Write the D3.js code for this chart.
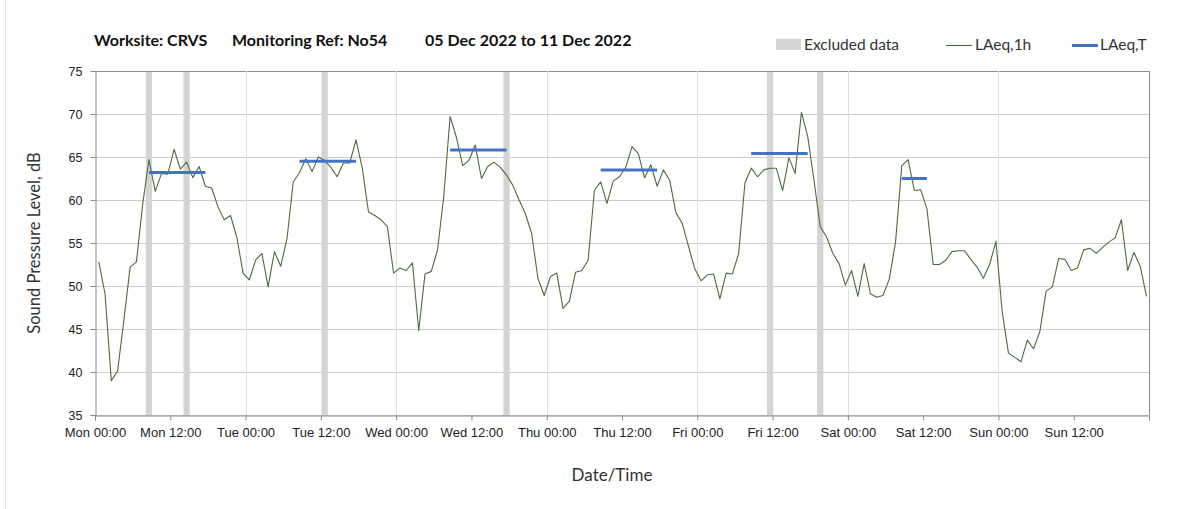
<!DOCTYPE html>
<html>
<head>
<meta charset="utf-8">
<script src="https://cdn.jsdelivr.net/npm/d3@7"></script>
<style>
  html, body { margin: 0; padding: 0; background: #fff; }
  svg { display: block; font-family: Lato, "Open Sans", sans-serif; }
</style>
</head>
<body>
<svg id="chart" width="1203" height="509"></svg>
<script>
// ---------------- DATA ----------------
const titleParts = ["Worksite: CRVS", "Monitoring Ref: No54", "05 Dec 2022 to 11 Dec 2022"];
const startDate = new Date(2022, 11, 5, 0, 0);   // Mon 05 Dec 2022 00:00
const endDate = new Date(2022, 11, 12, 0, 0);    // Mon 12 Dec 2022 00:00
const sampleMinute = 36;                          // hourly samples logged at hh:36
const yTicks = [35, 40, 45, 50, 55, 60, 65, 70, 75];

const laeqMon = [52.8, 49.1, 39.0, 40.1, 46.0, 52.2, 52.8, 59.5, 64.7, 61.0, 63.1, 63.0,
                 65.9, 63.6, 64.4, 62.6, 63.9, 61.6, 61.4, 59.2, 57.7, 58.2, 55.7, 51.5];
const laeqTue = [50.7, 53.0, 53.8, 49.9, 54.0, 52.3, 55.5, 62.1, 63.2, 64.8, 63.3, 65.0,
                 64.6, 63.8, 62.7, 64.3, 64.3, 67.0, 63.7, 58.6, 58.2, 57.7, 56.9, 51.5];
const laeqWed = [52.1, 51.8, 52.7, 44.8, 51.4, 51.7, 54.2, 60.5, 69.7, 67.3, 64.0, 64.6,
                 66.4, 62.5, 63.9, 64.4, 63.8, 62.9, 61.7, 60.0, 58.4, 56.1, 50.9, 48.9];
const laeqThu = [51.1, 51.5, 47.4, 48.2, 51.6, 51.8, 53.0, 61.1, 62.1, 59.6, 62.2, 62.7,
                 63.8, 66.2, 65.4, 62.6, 64.1, 61.6, 63.5, 62.3, 58.5, 57.3, 54.6, 52.0];
const laeqFri = [50.6, 51.3, 51.4, 48.5, 51.5, 51.4, 53.8, 62.0, 63.7, 62.7, 63.5, 63.7,
                 63.7, 61.1, 64.9, 63.1, 70.2, 67.4, 62.3, 56.9, 55.7, 53.8, 52.6, 50.1];
const laeqSat = [51.8, 48.8, 52.6, 49.1, 48.7, 48.9, 50.8, 55.1, 64.0, 64.7, 61.1, 61.2,
                 59.0, 52.5, 52.5, 53.0, 54.0, 54.1, 54.1, 53.1, 52.2, 50.9, 52.5, 55.2];
const laeqSun = [47.0, 42.2, 41.7, 41.2, 43.7, 42.7, 44.7, 49.4, 49.9, 53.2, 53.1, 51.8,
                 52.1, 54.2, 54.4, 53.8, 54.5, 55.1, 55.6, 57.7, 51.8, 53.9, 52.3, 48.8];

// excluded hourly samples (hour index from start of week)
const excludedHours = [8, 14, 36, 65, 107, 115];

// LAeq,T day periods: day index, first and last hour of the period, level
const periodDay = [0, 1, 2, 3, 4, 5];
const periodFirstHour = [8, 8, 8, 8, 8, 8];
const periodLastHour = [17, 17, 17, 17, 17, 12];
const periodLevel = [63.2, 64.5, 65.8, 63.5, 65.4, 62.5];

// ---------------- BUILD ----------------
const laeqAll = [].concat(laeqMon, laeqTue, laeqWed, laeqThu, laeqFri, laeqSat, laeqSun);
const sampleTime = h => new Date(startDate.getTime() + (h * 60 + sampleMinute) * 60000);
const series = laeqAll.map((v, i) => ({ t: sampleTime(i), v }));
const periods = periodDay.map((d, i) => ({
  t0: sampleTime(d * 24 + periodFirstHour[i]),
  t1: sampleTime(d * 24 + periodLastHour[i]),
  v: periodLevel[i]
}));

const svg = d3.select("#chart");
const W = 1203, H = 509;
const margin = { left: 95, right: 54, top: 71, bottom: 94 };
const x = d3.scaleTime().domain([startDate, endDate]).range([margin.left, W - margin.right]);
const y = d3.scaleLinear().domain([35, 75]).range([H - margin.bottom, margin.top]);

// faint outer frame line
svg.append("line").attr("x1", 5.5).attr("x2", 5.5).attr("y1", 0).attr("y2", H)
  .attr("stroke", "#e3e3e3").attr("stroke-width", 1);

const plotL = x.range()[0], plotR = x.range()[1], plotT = y.range()[1], plotB = y.range()[0];

// horizontal gridlines
svg.append("g").selectAll("line").data(yTicks).join("line")
  .attr("x1", plotL).attr("x2", plotR)
  .attr("y1", d => Math.round(y(d)) + 0.5).attr("y2", d => Math.round(y(d)) + 0.5)
  .attr("stroke", d => d === 75 ? "#8c8c8c" : "#cdcdcd").attr("stroke-width", 1);

// vertical day gridlines
const dayTicks = d3.timeDay.range(startDate, d3.timeDay.offset(endDate, 1));
svg.append("g").selectAll("line").data(dayTicks.slice(1)).join("line")
  .attr("x1", d => Math.round(x(d)) + 0.5).attr("x2", d => Math.round(x(d)) + 0.5)
  .attr("y1", plotT).attr("y2", plotB)
  .attr("stroke", d => +d === +endDate ? "#8c8c8c" : "#e0e0e0").attr("stroke-width", 1);

// excluded data bands
const halfHour = 30 * 60000;
svg.append("g").selectAll("rect").data(excludedHours).join("rect")
  .attr("x", h => x(new Date(sampleTime(h).getTime() - halfHour)))
  .attr("width", h => x(new Date(sampleTime(h).getTime() + halfHour)) - x(new Date(sampleTime(h).getTime() - halfHour)))
  .attr("y", plotT + 1).attr("height", plotB - plotT - 1)
  .attr("fill", "#d4d4d4");

// axes
const yAxis = d3.axisLeft(y).tickValues(yTicks).tickSize(5).tickPadding(8);
const gy = svg.append("g").attr("transform", `translate(${plotL + 0.5},0)`).call(yAxis);
gy.select(".domain").attr("stroke", "#8c8c8c");
gy.selectAll(".tick line").attr("stroke", "#8c8c8c").attr("x2", -5);
gy.selectAll(".tick text").attr("fill", "#222").style("font-size", "12.5px").attr("x", -13);

const xTickVals = d3.timeHour.every(12).range(startDate, d3.timeHour.offset(endDate, 1));
const fmt = d3.timeFormat("%a %H:%M");
const xAxis = d3.axisBottom(x).tickValues(xTickVals).tickSize(5).tickPadding(7)
  .tickFormat(d => +d === +endDate ? "" : fmt(d));
const gx = svg.append("g").attr("transform", `translate(0,${Math.round(plotB) + 0.5})`).call(xAxis);
gx.select(".domain").attr("stroke", "#8c8c8c");
gx.selectAll(".tick line").attr("stroke", "#8c8c8c");
gx.selectAll(".tick text").attr("fill", "#222").style("font-size", "13px");

// LAeq,1h line
svg.append("path").datum(series)
  .attr("fill", "none").attr("stroke", "#4e6b3c").attr("stroke-width", 1.1)
  .attr("stroke-linejoin", "round")
  .attr("d", d3.line().x(d => x(d.t)).y(d => y(d.v)));

// LAeq,T period lines
svg.append("g").selectAll("line").data(periods).join("line")
  .attr("x1", d => x(d.t0)).attr("x2", d => x(d.t1))
  .attr("y1", d => y(d.v)).attr("y2", d => y(d.v))
  .attr("stroke", "#4472c4").attr("stroke-width", 3);

// title
const titleX = [94, 232, 425];
svg.append("g").selectAll("text").data(titleParts).join("text")
  .attr("x", (d, i) => titleX[i]).attr("y", 46)
  .style("font-size", "16px").style("font-weight", "bold").attr("fill", "#111")
  .text(d => d);

// legend
const lg = svg.append("g");
lg.append("rect").attr("x", 776).attr("y", 39).attr("width", 25).attr("height", 11).attr("fill", "#d4d4d4");
lg.append("text").attr("x", 804).attr("y", 50).style("font-size", "15.5px").attr("fill", "#333").text("Excluded data");
lg.append("line").attr("x1", 946).attr("x2", 972).attr("y1", 45.5).attr("y2", 45.5)
  .attr("stroke", "#4e6b3c").attr("stroke-width", 1.1);
lg.append("text").attr("x", 975).attr("y", 50).style("font-size", "15.5px").attr("fill", "#333").text("LAeq,1h");
lg.append("line").attr("x1", 1072).attr("x2", 1098).attr("y1", 45.5).attr("y2", 45.5)
  .attr("stroke", "#4472c4").attr("stroke-width", 3);
lg.append("text").attr("x", 1100).attr("y", 50).style("font-size", "15.5px").attr("fill", "#333").text("LAeq,T");

// axis titles
svg.append("text").attr("transform", `translate(40,${(plotT + plotB) / 2}) rotate(-90)`)
  .attr("text-anchor", "middle").style("font-size", "16.5px").attr("fill", "#333")
  .text("Sound Pressure Level, dB");
svg.append("text").attr("x", (plotL + plotR) / 2 - 10).attr("y", 481)
  .attr("text-anchor", "middle").style("font-size", "17px").attr("fill", "#333")
  .text("Date/Time");
</script>
</body>
</html>
